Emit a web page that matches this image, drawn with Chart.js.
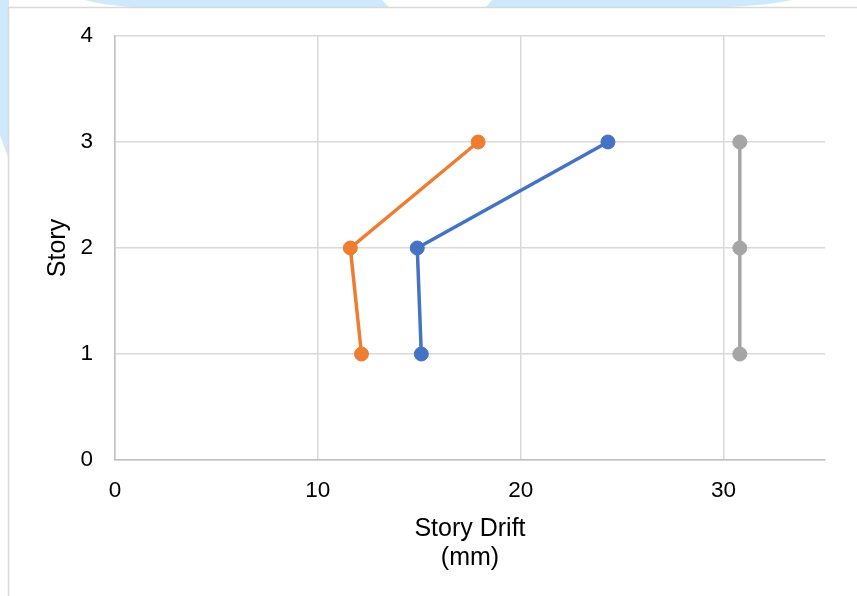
<!DOCTYPE html>
<html>
<head>
<meta charset="utf-8">
<script src="https://cdn.jsdelivr.net/npm/chart.js@4/dist/chart.umd.min.js"></script>
<style>
  html, body { margin: 0; padding: 0; background: #ffffff; }
  #wrap { width: 857px; height: 596px; }
</style>
</head>
<body>
<div id="wrap"><canvas id="chart" width="857" height="596"></canvas></div>
<script>
// Story levels and inter-story drift (mm) for each series
const storyLevels = [1, 2, 3];
const driftSeriesA = [15.1, 14.9, 24.3];
const driftSeriesB = [12.15, 11.6, 17.9];
const driftLimit = [30.8, 30.8, 30.8];

const seriesNames = ['Series 1', 'Series 2', 'Series 3'];
const seriesColors = ['#4472C4', '#ED7D31', '#A5A5A5'];

// Axis ticks
const xTickValues = [0, 10, 20, 30];
const yTickValues = [0, 1, 2, 3, 4];

const toPoints = (xs) => xs.map((x, i) => ({ x: x, y: storyLevels[i] }));

// Page background with the frame around the chart
const framePlugin = {
  id: 'frame',
  beforeDraw(chart) {
    const ctx = chart.ctx;
    const W = chart.width, H = chart.height;
    ctx.save();
    ctx.fillStyle = '#ffffff';
    ctx.fillRect(0, 0, W, H);

    // pale blue shapes behind the frame
    ctx.fillStyle = '#cde9fb';
    ctx.beginPath();
    ctx.moveTo(85, 0);
    ctx.quadraticCurveTo(110, 7, 157, 8);
    ctx.lineTo(390, 8);
    ctx.lineTo(382, 0);
    ctx.closePath();
    ctx.fill();

    ctx.beginPath();
    ctx.moveTo(492, 0);
    ctx.lineTo(485, 8);
    ctx.lineTo(693, 8);
    ctx.quadraticCurveTo(760, 7, 792, 0);
    ctx.closePath();
    ctx.fill();

    ctx.beginPath();
    ctx.moveTo(0, 0);
    ctx.lineTo(9, 0);
    ctx.lineTo(9, 160);
    ctx.lineTo(0, 135);
    ctx.closePath();
    ctx.fill();

    // white chart panel
    ctx.fillStyle = '#ffffff';
    ctx.fillRect(8, 7, W - 8, H - 7);
    ctx.strokeStyle = '#d9d9d9';
    ctx.lineWidth = 1.5;
    ctx.beginPath();
    ctx.moveTo(8.5, H);
    ctx.lineTo(8.5, 7.5);
    ctx.lineTo(W, 7.5);
    ctx.stroke();
    ctx.restore();
  }
};

const fontFamily = '"Liberation Sans", Arial, sans-serif';

new Chart(document.getElementById('chart'), {
  type: 'scatter',
  data: {
    datasets: [
      { label: seriesNames[0], data: toPoints(driftSeriesA) },
      { label: seriesNames[1], data: toPoints(driftSeriesB) },
      { label: seriesNames[2], data: toPoints(driftLimit) }
    ].map((d, i) => Object.assign(d, {
      showLine: true,
      borderColor: seriesColors[i],
      backgroundColor: seriesColors[i],
      pointBackgroundColor: seriesColors[i],
      pointBorderColor: seriesColors[i],
      borderWidth: 3.5,
      pointRadius: 7,
      pointBorderWidth: 1,
      tension: 0
    }))
  },
  options: {
    responsive: false,
    animation: false,
    devicePixelRatio: 1,
    layout: { padding: { left: 0, right: 32, top: 36, bottom: 0 } },
    plugins: {
      legend: { display: false },
      tooltip: { enabled: false }
    },
    scales: {
      x: {
        type: 'linear',
        position: 'bottom',
        min: 0,
        max: 35,
        afterBuildTicks(scale) {
          scale.ticks = xTickValues.map(v => ({ value: v }));
        },
        afterFit(scale) { scale.height = 136; },
        ticks: {
          color: '#000000',
          padding: 17,
          font: { family: fontFamily, size: 22.5 }
        },
        grid: { color: '#d9d9d9', lineWidth: 1.5, drawTicks: false },
        border: { display: true, color: '#bfbfbf', width: 1.5 },
        title: {
          display: true,
          text: ['Story Drift', '(mm)'],
          color: '#000000',
          font: { family: fontFamily, size: 25, lineHeight: 1.16 },
          padding: { top: 0, bottom: 23 }
        }
      },
      y: {
        type: 'linear',
        min: 0,
        max: 4,
        afterBuildTicks(scale) {
          scale.ticks = yTickValues.map(v => ({ value: v }));
        },
        afterFit(scale) { scale.width = 115; },
        ticks: {
          color: '#000000',
          padding: 22,
          font: { family: fontFamily, size: 22.5 }
        },
        grid: { color: '#d9d9d9', lineWidth: 1.5, drawTicks: false },
        border: { display: true, color: '#bfbfbf', width: 1.5 },
        title: {
          display: true,
          text: 'Story',
          color: '#000000',
          font: { family: fontFamily, size: 25, lineHeight: 1.16 },
          padding: { top: 44, bottom: 0 }
        }
      }
    }
  },
  plugins: [framePlugin]
});
</script>
</body>
</html>
